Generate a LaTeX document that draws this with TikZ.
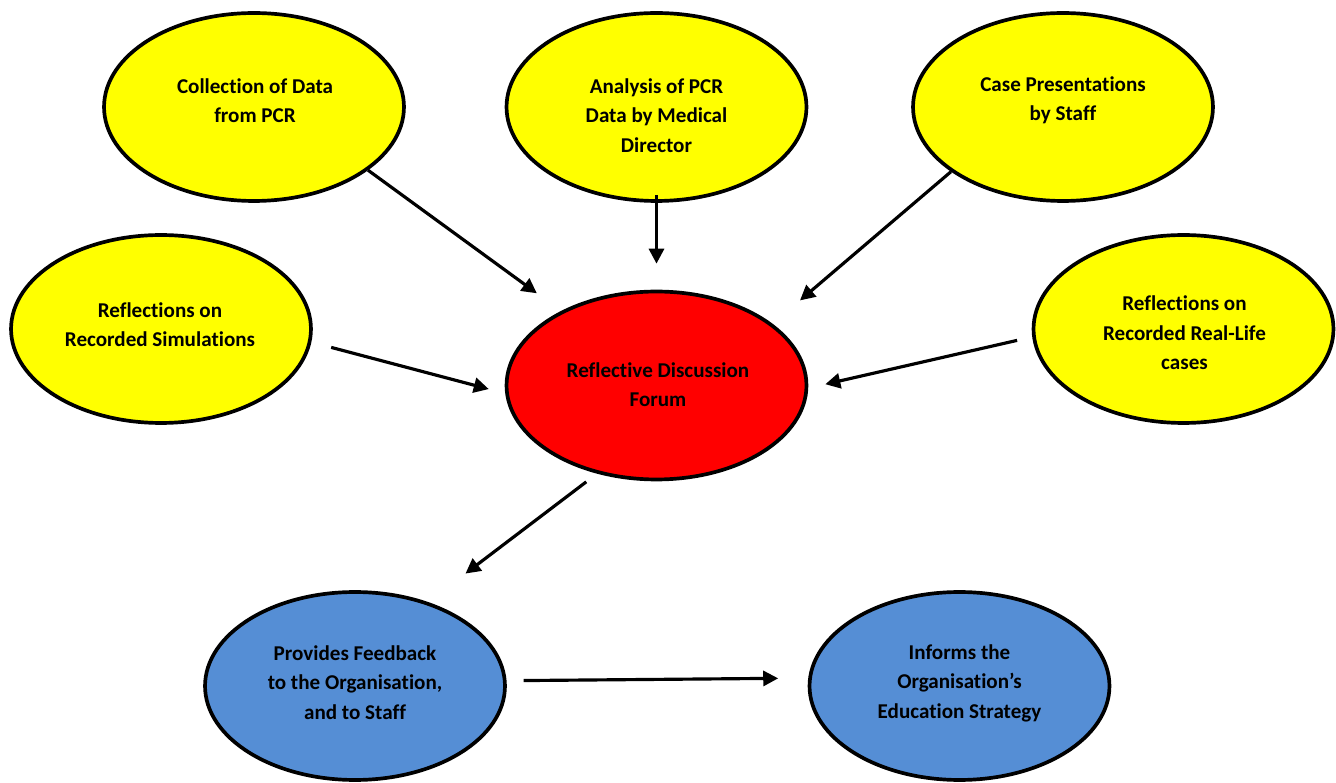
\documentclass[tikz,border=0pt]{standalone}
\usepackage{fontspec}
\setmainfont{Carlito}[Ligatures=NoCommon]
\usetikzlibrary{shapes.geometric,arrows.meta}
\definecolor{ovalyellow}{HTML}{FFFF00}
\definecolor{ovalred}{HTML}{FF0000}
\definecolor{ovalblue}{HTML}{558ED5}
\tikzset{
  oval/.style={ellipse, draw=black, line width=2.1pt, inner sep=0pt,
    minimum width=6.0cm, minimum height=3.76cm},
  yel/.style={oval, fill=ovalyellow},
  redoval/.style={oval, fill=ovalred},
  blu/.style={oval, fill=ovalblue},
  caption/.style={align=center, font=\fontsize{12}{16.8}\selectfont\bfseries, inner sep=0pt},
  arr/.style={line width=1.8pt, -{Triangle[length=0.3cm,width=0.3cm]}}
}
\begin{document}
\begin{tikzpicture}[x=0.02cm, y=-0.02cm]
\useasboundingbox (0,0) rectangle (1336,783);

% ovals
\node[yel] (c1) at (254,107) {};
\node[yel] (c2) at (656.5,107) {};
\node[yel] (c3) at (1063,107) {};
\node[yel] (sim) at (161,329) {};
\node[yel] (real) at (1183.5,329) {};
\node[redoval] (forum) at (656.5,385.5) {};
\node[blu] (fb) at (355,686) {};
\node[blu] (inf) at (959.5,686) {};

% captions
\node[caption] (c1t) at (255,100.5) {Collection of Data\\from PCR};
\node[caption] (c2t) at (656.5,115.5) {Analysis of PCR\\Data by Medical\\Director};
\node[caption] (c3t) at (1063,100.5) {Case Presentations\\by Staff};
\node[caption] (simt) at (160,324.5) {Reflections on\\Recorded Simulations};
\node[caption] (realt) at (1184.5,333) {Reflections on\\Recorded Real-Life\\cases};
\node[caption] (forumt) at (658,384.5) {Reflective Discussion\\Forum};
\node[caption] (fbt) at (355,682.5) {Provides Feedback\\to the Organisation,\\and to Staff};
\node[caption] (inft) at (959.5,683) {Informs the\\Organisation’s\\Education Strategy};

% connectors
\draw[arr, shorten >=0.6cm] (c1.-29.3) -- (forum.142.5);
\draw[arr, shorten <=-0.16cm, shorten >=0.52cm] (c2.south) -- (forum.north);
\draw[arr, shorten >=0.72cm] (c3.-150) -- (forum.28.2);
\draw[arr, shorten <=0.41cm, shorten >=0.34cm] (sim.-5) -- (forum.-177.5);
\draw[arr, shorten <=0.31cm, shorten >=0.35cm] (real.-177.6) -- (forum.-1.8);
\draw[arr, shorten <=0.27cm, shorten >=0.94cm] (forum.-124.5) -- (fb.49.4);
\draw[arr, shorten <=0.34cm, shorten >=0.6cm] (fb.2.3) -- (inf.177.7);
\end{tikzpicture}
\end{document}
